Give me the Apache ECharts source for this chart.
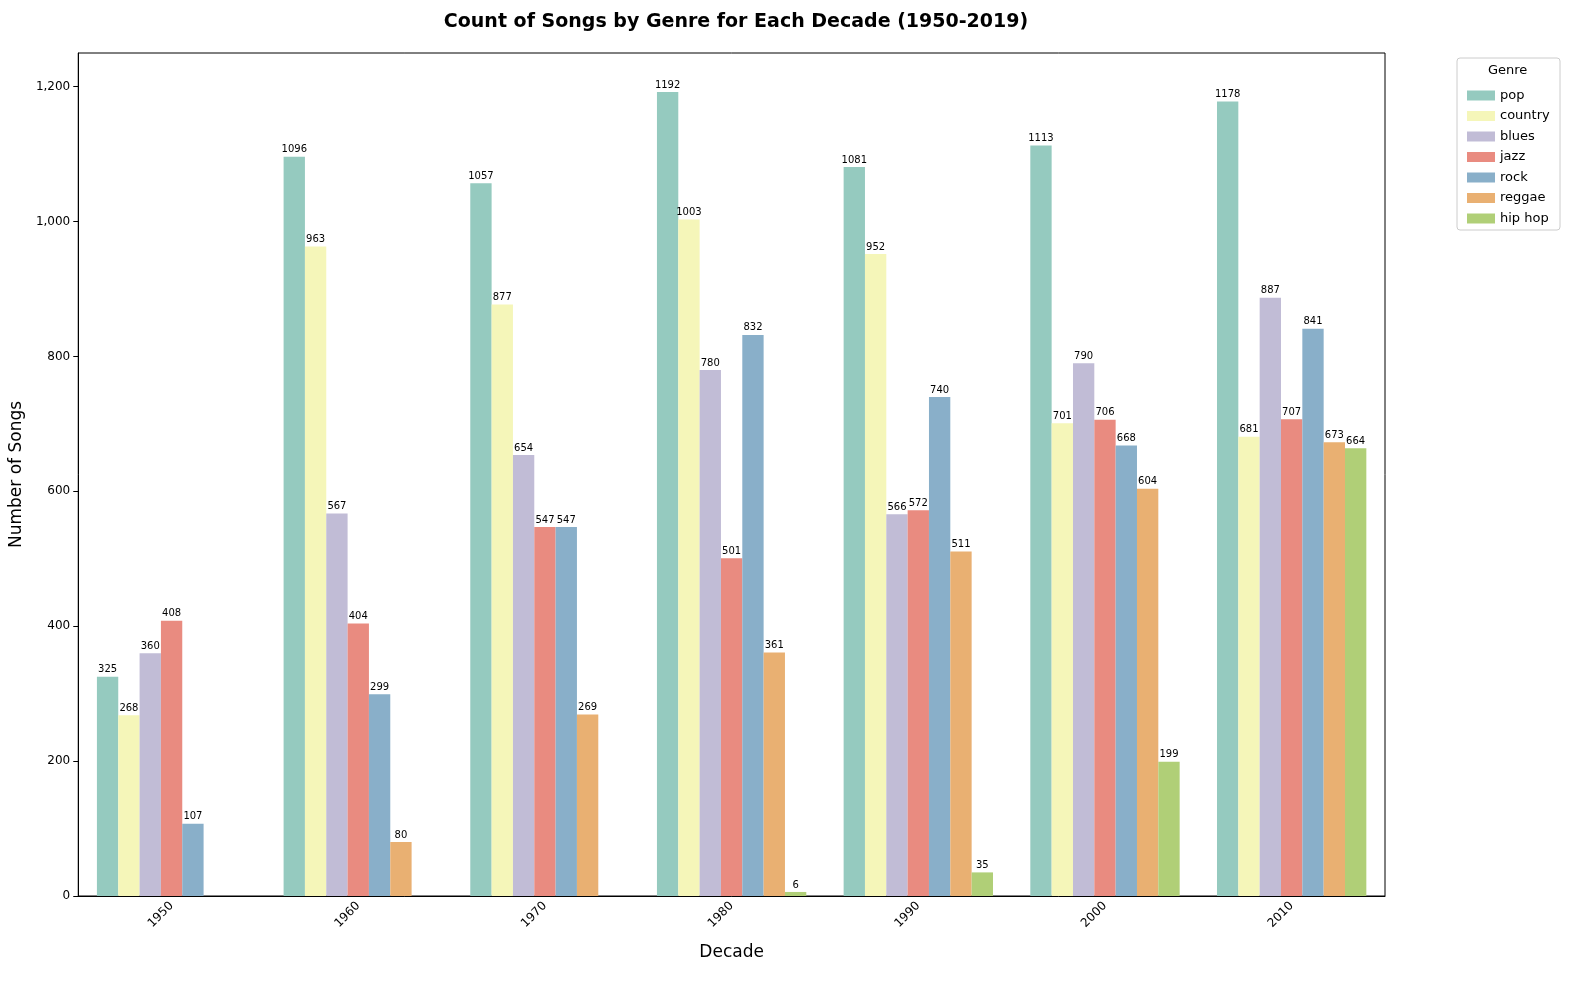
<!DOCTYPE html>
<html><head><meta charset="utf-8">
<script src="https://cdn.jsdelivr.net/npm/echarts@6/dist/echarts.min.js"></script>
<style>html,body{margin:0;padding:0;background:#fff}#main{width:1594px;height:990px}</style>
</head><body><div id="main"></div>
<script>
const decades = ['1950','1960','1970','1980','1990','2000','2010'];
const genres = ['pop','country','blues','jazz','rock','reggae','hip hop'];
const colors = ['#95cabf','#f5f6b9','#c1bcd6','#e98b80','#89afc9','#e9b072','#b0cf77'];
const yTicks = [0,200,400,600,800,1000,1200];
const pop = [325,1096,1057,1192,1081,1113,1178];
const country = [268,963,877,1003,952,701,681];
const blues = [360,567,654,780,566,790,887];
const jazz = [408,404,547,501,572,706,707];
const rock = [107,299,547,832,740,668,841];
const reggae = [null,80,269,361,511,604,673];
const hiphop = [null,null,null,6,35,199,664];
const values = [pop,country,blues,jazz,rock,reggae,hiphop];

let myChart = echarts.init(document.getElementById('main'));
const font = 'DejaVu Sans';
myChart.setOption({
    animation: false,
    textStyle: { fontFamily: font },
    title: {
        text: 'Count of Songs by Genre for Each Decade (1950-2019)',
        left: 731, top: 8, textAlign: 'center',
        textStyle: { fontSize: 19, fontWeight: 'bold', color: '#000', fontFamily: font }
    },
    legend: {
        orient: 'vertical', left: 1462, top: 84, itemWidth: 28, itemHeight: 10, itemGap: 7.5,
        icon: 'rect', data: genres,
        textStyle: { fontSize: 13, color: '#000', fontFamily: font }
    },
    graphic: [
        { type: 'rect', shape: { x: 1457, y: 58, width: 103, height: 172, r: 3 },
          style: { fill: '#fff', stroke: '#ccc', lineWidth: 1 }, z: -1 },
        { type: 'text', left: 1488, top: 64, style: { text: 'Genre', fontSize: 13, fill: '#000', fontFamily: font } }
    ],
    grid: { left: 77, right: 209, top: 53, bottom: 94, show: true, borderColor: '#000', borderWidth: 1 },
    xAxis: {
        type: 'category', data: decades,
        name: 'Decade', nameLocation: 'middle', nameGap: 48,
        nameTextStyle: { fontSize: 17, color: '#000', fontFamily: font },
        axisLine: { lineStyle: { color: '#000' } },
        axisTick: { alignWithLabel: true, lineStyle: { color: '#000' } },
        axisLabel: { rotate: 45, fontSize: 12, color: '#000', margin: 8 }
    },
    yAxis: {
        type: 'value', min: 0, max: 1250,
        name: 'Number of Songs', nameLocation: 'middle', nameGap: 48,
        nameTextStyle: { fontSize: 17, color: '#000', fontFamily: font },
        axisLine: { show: true, lineStyle: { color: '#000' } },
        axisTick: { show: true, customValues: yTicks, lineStyle: { color: '#000' } },
        splitLine: { show: false },
        axisLabel: { fontSize: 12, color: '#000', customValues: yTicks }
    },
    series: genres.map((g, i) => ({
        name: g, type: 'bar', data: values[i],
        barGap: '0%', barCategoryGap: '20%',
        itemStyle: { color: colors[i] },
        label: { show: true, position: 'top', distance: 2, fontSize: 10, color: '#000',
            formatter: p => p.value == null ? '' : p.value }
    }))
});
</script></body></html>
